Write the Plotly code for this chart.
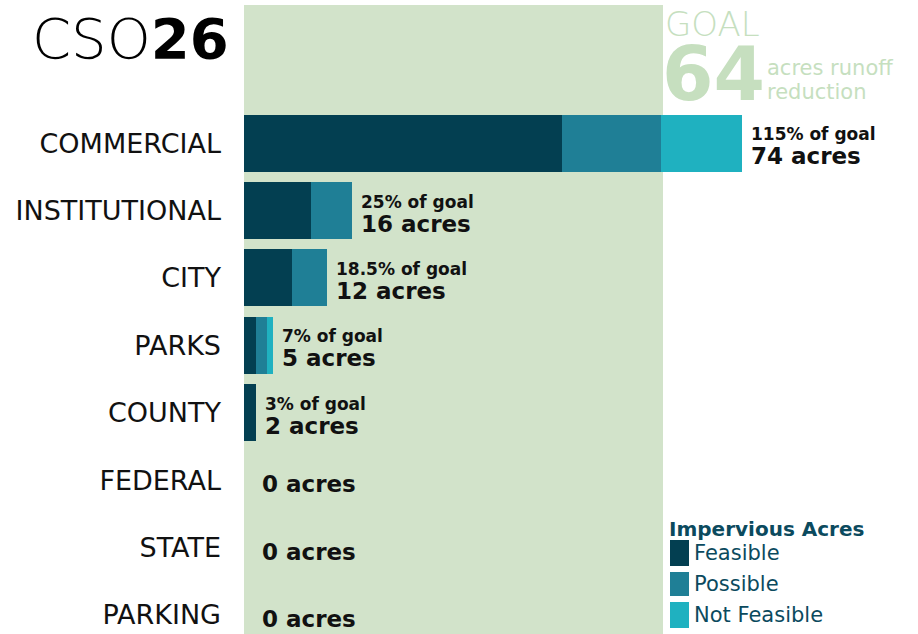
import plotly.graph_objects as go

# ---- data ----
categories = ["COMMERCIAL", "INSTITUTIONAL", "CITY", "PARKS", "COUNTY", "FEDERAL", "STATE", "PARKING"]
feasible = [48.6, 10.2, 7.3, 1.8, 1.8, 0, 0, 0]
possible = [15.1, 6.3, 5.4, 1.7, 0, 0, 0, 0]
not_feasible = [12.3, 0, 0, 0.9, 0, 0, 0, 0]
pct_labels = ["115%", "25%", "18.5%", "7%", "3%", None, None, None]
acres_labels = [74, 16, 12, 5, 2, 0, 0, 0]
GOAL = 64
series_names = ["Feasible", "Possible", "Not Feasible"]
series_colors = ["#033f51", "#1f7f96", "#1fb1c0"]

W, H = 918, 634
L, R, T, B = 244, 0, 5, 0
PW, PH = W - L - R, H - T - B
FONT = "DejaVu Sans"

def px(xp):
    return (xp - L) / PW

def py(yp):
    return (H - B - yp) / PH

fig = go.Figure()
for name, vals, col in zip(series_names, [feasible, possible, not_feasible], series_colors):
    fig.add_trace(go.Bar(
        x=vals, y=categories, orientation="h", name=name,
        marker=dict(color=col, line=dict(width=0)),
        width=0.846, showlegend=False, hoverinfo="x+y+name",
    ))

totals = [a + b + c for a, b, c in zip(feasible, possible, not_feasible)]
annotations = []
for cat, tot, pct, ac in zip(categories, totals, pct_labels, acres_labels):
    if pct is None:
        annotations.append(dict(x=tot, y=cat, xref="x", yref="y", xanchor="left", yanchor="middle",
                                xshift=16, yshift=-4, showarrow=False,
                                text=f"{ac} acres",
                                font=dict(family=FONT, size=23, color="#111111", weight=700)))
    else:
        annotations.append(dict(x=tot, y=cat, xref="x", yref="y", xanchor="left", yanchor="middle",
                                xshift=7, yshift=9, showarrow=False,
                                text=f"{pct} of goal",
                                font=dict(family=FONT, size=17, color="#111111", weight=700)))
        annotations.append(dict(x=tot, y=cat, xref="x", yref="y", xanchor="left", yanchor="middle",
                                xshift=7, yshift=-13, showarrow=False,
                                text=f"{ac} acres",
                                font=dict(family=FONT, size=23, color="#111111", weight=700)))

# Title
annotations.append(dict(x=px(30), y=py(38), xref="paper", yref="paper", xanchor="left", yanchor="middle",
                        showarrow=False, text="CSO<b>26</b>",
                        font=dict(family=FONT, size=56, color="#000000", weight=300)))
# Goal block
goal_col = "#c6dfbf"
annotations.append(dict(x=px(663), y=py(24), xref="paper", yref="paper", xanchor="left", yanchor="middle",
                        showarrow=False, text="GOAL",
                        font=dict(family=FONT, size=34, color=goal_col, weight=300)))
annotations.append(dict(x=px(660), y=py(74), xref="paper", yref="paper", xanchor="left", yanchor="middle",
                        showarrow=False, text=f"{GOAL}",
                        font=dict(family=FONT, size=74, color=goal_col, weight=700)))
annotations.append(dict(x=px(765), y=py(68), xref="paper", yref="paper", xanchor="left", yanchor="middle",
                        showarrow=False, text="acres runoff",
                        font=dict(family=FONT, size=21, color=goal_col)))
annotations.append(dict(x=px(765), y=py(92), xref="paper", yref="paper", xanchor="left", yanchor="middle",
                        showarrow=False, text="reduction",
                        font=dict(family=FONT, size=21, color=goal_col)))

# Legend (manual)
leg_col = "#0b4a5e"
annotations.append(dict(x=px(667), y=py(529), xref="paper", yref="paper", xanchor="left", yanchor="middle",
                        showarrow=False, text="Impervious Acres",
                        font=dict(family=FONT, size=20, color=leg_col, weight=700)))
shapes = [dict(type="rect", xref="x", yref="paper", x0=0, x1=GOAL, y0=0, y1=1,
               fillcolor="#d2e3ca", line=dict(width=0), layer="below")]
leg_boxes = [(540, 566), (572, 596), (602, 628)]
for (y0, y1), name, col in zip(leg_boxes, series_names, series_colors):
    shapes.append(dict(type="rect", xref="paper", yref="paper", x0=px(670), x1=px(689),
                       y0=py(y1), y1=py(y0), fillcolor=col, line=dict(width=0)))
    annotations.append(dict(x=px(692), y=py((y0 + y1) / 2), xref="paper", yref="paper",
                            xanchor="left", yanchor="middle", showarrow=False, text=name,
                            font=dict(family=FONT, size=21, color=leg_col)))

fig.update_layout(
    width=W, height=H,
    margin=dict(l=L, r=R, t=T, b=B, autoexpand=False),
    barmode="stack", bargap=0,
    paper_bgcolor="white", plot_bgcolor="white",
    shapes=shapes, annotations=annotations,
    xaxis=dict(range=[0, PW / (419 / GOAL)], visible=False, fixedrange=True),
    yaxis=dict(type="category", categoryorder="array", categoryarray=categories,
               range=[7.283, -2.049], showgrid=False, zeroline=False, showline=False,
               ticks="", ticklabelstandoff=22, automargin=False, fixedrange=True,
               tickfont=dict(family=FONT, size=27, color="#111111")),
    font=dict(family=FONT),
)

fig.write_html("out.html", config={"displayModeBar": False},
               post_script="document.body.style.margin='0';document.body.style.overflow='hidden';")
